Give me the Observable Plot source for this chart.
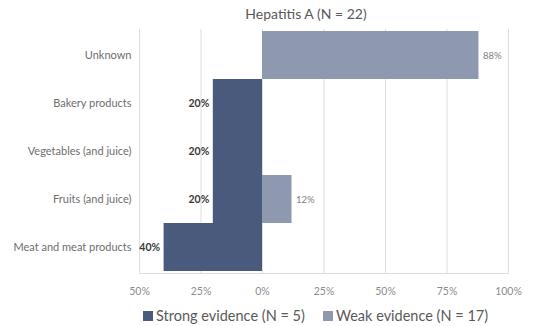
<!DOCTYPE html>
<html>
<head>
<meta charset="utf-8">
<script src="https://cdn.jsdelivr.net/npm/d3@7"></script>
<script src="https://cdn.jsdelivr.net/npm/@observablehq/plot@0.6"></script>
<style>
  html, body { margin: 0; padding: 0; background: #fff; }
  body { width: 536px; height: 326px; overflow: hidden; font-family: Lato, "Open Sans", sans-serif; }
  #title { height: 24px; line-height: 28px; font-size: 14px; color: #595959; position: relative; }
  #title span { position: absolute; left: 306px; transform: translateX(-50%); white-space: nowrap; }
  #legend { height: 24px; position: relative; font-size: 14.5px; color: #595959; }
  #legend .item { position: absolute; top: 5px; white-space: nowrap; display: flex; align-items: center; }
  #legend .sw { display: inline-block; width: 10px; height: 10px; margin-right: 3px; }
</style>
</head>
<body>
<div id="title"><span>Hepatitis A (N = 22)</span></div>
<div id="chart"></div>
<div id="legend"></div>
<script>
const categories = ["Unknown", "Bakery products", "Vegetables (and juice)", "Fruits (and juice)", "Meat and meat products"];
const strongValues = [0, 20, 20, 20, 40];
const weakValues = [88, 0, 0, 12, 0];
const xTicks = [-0.5, -0.25, 0, 0.25, 0.5, 0.75, 1];
const seriesNames = ["Strong evidence (N = 5)", "Weak evidence (N = 17)"];
const colors = ["#4a5a7c", "#8e99b0"];

const strong = categories.map((c, i) => ({cat: c, v: strongValues[i]})).filter(d => d.v > 0);
const weak = categories.map((c, i) => ({cat: c, v: weakValues[i]})).filter(d => d.v > 0);
const pct = d => Math.round(Math.abs(d) * 100) + "%";

const plot = Plot.plot({
  width: 536,
  height: 278,
  marginTop: 5,
  marginBottom: 29,
  marginLeft: 139,
  marginRight: 28,
  style: {fontFamily: "Lato, 'Open Sans', sans-serif", fontSize: "10px", color: "#7f7f7f", background: "transparent"},
  x: {domain: [-0.5, 1], ticks: xTicks, tickFormat: pct, label: null},
  y: {domain: categories, padding: 0, label: null},
  marks: [
    Plot.gridX(xTicks, {stroke: "#dedede", strokeOpacity: 1, strokeWidth: 1}),
    Plot.frame({anchor: "bottom", stroke: "#dedede", strokeOpacity: 1}),
    Plot.barX(strong, {y: "cat", x1: 0, x2: d => -d.v / 100, fill: colors[0]}),
    Plot.barX(weak, {y: "cat", x1: 0, x2: d => d.v / 100, fill: colors[1]}),
    Plot.text(strong, {y: "cat", x: d => -d.v / 100, text: d => d.v + "%", textAnchor: "end", dx: -4, fill: "#3a3a3a", fontWeight: "bold", fontSize: 10.5}),
    Plot.text(weak, {y: "cat", x: d => d.v / 100, text: d => d.v + "%", textAnchor: "start", dx: 4, fill: "#808080", fontSize: 9.5}),
    Plot.axisY({tickSize: 0, tickPadding: 8, fill: "#6e6e6e", fontSize: 11}),
    Plot.axisX({ticks: xTicks, tickFormat: pct, tickSize: 0, tickPadding: 14, fill: "#8c8c8c", fontSize: 10.5})
  ]
});
document.getElementById("chart").appendChild(plot);

const legend = document.getElementById("legend");
const lx = [143, 323];
seriesNames.forEach((n, i) => {
  const item = document.createElement("div");
  item.className = "item";
  item.style.left = lx[i] + "px";
  item.innerHTML = `<span class="sw" style="background:${colors[i]}"></span><span>${n}</span>`;
  legend.appendChild(item);
});
</script>
</body>
</html>
